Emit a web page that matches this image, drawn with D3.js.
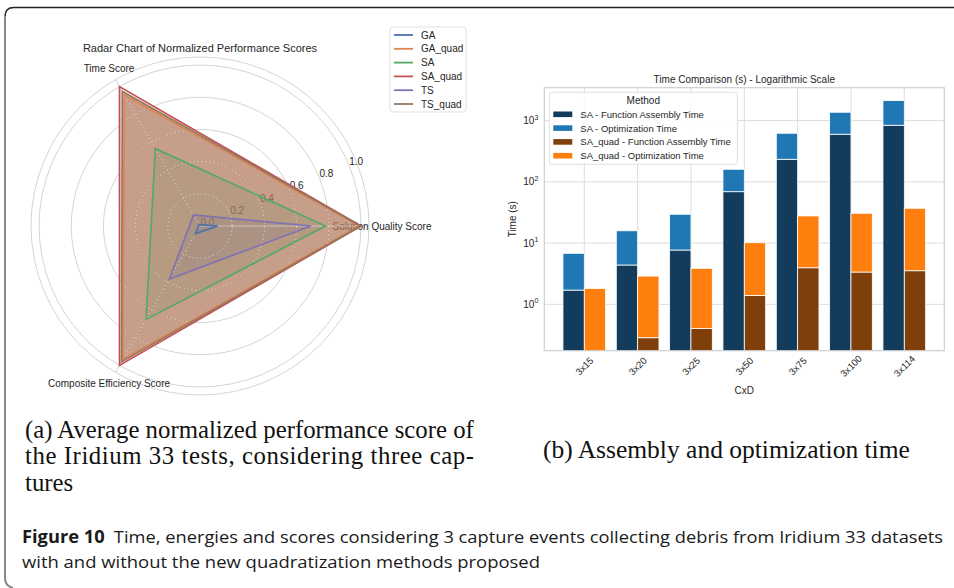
<!DOCTYPE html>
<html>
<head>
<meta charset="utf-8">
<script src="https://cdn.jsdelivr.net/npm/d3@7"></script>
<style>
  body { margin: 0; background: #fff; }
  svg { display: block; font-family: "Liberation Sans", Arial, sans-serif; }
</style>
</head>
<body>
<script>
// radar data
var radarAxes = ["Solution Quality Score", "Time Score", "Composite Efficiency Score"];
var radarMethods = ["GA", "GA_quad", "SA", "SA_quad", "TS", "TS_quad"];
var radarScores = [
  [0.11, 0.01, 0.055],
  [0.99, 0.94, 0.96],
  [0.78, 0.555, 0.67],
  [1.0, 1.0, 1.0],
  [0.69, 0.08, 0.38],
  [1.0, 0.965, 0.975]
];
var radarTicks = [0.0, 0.2, 0.4, 0.6, 0.8, 1.0];

// bar data
var cxd = ["3x15", "3x20", "3x25", "3x50", "3x75", "3x100", "3x114"];
var saAssembly = [1.71, 4.39, 7.71, 69.1, 234, 600, 841];
var saOptimization = [5.1, 11.5, 21.9, 91.6, 388, 771, 1281];
var quadAssembly = [0.12, 0.285, 0.405, 1.40, 3.96, 3.37, 3.54];
var quadOptimization = [1.7, 2.61, 3.47, 8.75, 23.8, 27.3, 33.5];
var yTicks = [1, 10, 100, 1000];
var barSeries = ["SA - Function Assembly Time", "SA - Optimization Time",
                 "SA_quad - Function Assembly Time", "SA_quad - Optimization Time"];

(function() {
  var width = 954, height = 588;
  var svg = d3.select("body").append("svg")
    .attr("width", width)
    .attr("height", height);

  svg.append("rect").attr("width", width).attr("height", height).attr("fill", "#fff");

  // frame
  svg.append("path")
    .attr("d", "M954,7.5 H14 Q5,7.5 5,16.5")
    .attr("fill", "none").attr("stroke", "#222").attr("stroke-width", 1.5);
  svg.append("path")
    .attr("d", "M5,16.5 V578 Q5,586 13,588")
    .attr("fill", "none").attr("stroke", "#888").attr("stroke-width", 2);

  // ---------- radar ----------
  var palette = ["#4c72b0", "#dd8452", "#55a868", "#c44e52", "#8172b3", "#937860"];
  var fillAlpha = [0.25, 0.45, 0.22, 0.12, 0.22, 0.4];
  var cx = 200, cy = 226;
  var r = d3.scaleLinear().domain([0, 1.05]).range([0, 169]);
  var theta = function(i) { return i * 2 * Math.PI / radarAxes.length; };

  var radar = svg.append("g").attr("transform", "translate(" + cx + "," + cy + ")");

  radar.selectAll("circle.grid")
    .data(radarTicks.slice(1).concat([1.05]))
    .enter().append("circle")
    .attr("class", "grid")
    .attr("r", function(d) { return r(d); })
    .attr("fill", "none")
    .attr("stroke", "#d4d4d4")
    .attr("stroke-width", 1);

  radar.selectAll("line.spoke")
    .data(radarAxes)
    .enter().append("line")
    .attr("class", "spoke")
    .attr("x2", function(d, i) { return r(1.05) * Math.cos(theta(i)); })
    .attr("y2", function(d, i) { return -r(1.05) * Math.sin(theta(i)); })
    .attr("stroke", "#d4d4d4");

  // radial tick labels (under the fills)
  var labAng = 22.5 * Math.PI / 180;
  radar.selectAll("text.rtick")
    .data(radarTicks)
    .enter().append("text")
    .attr("class", "rtick")
    .attr("x", function(d) { return (r(d) + 8) * Math.cos(labAng); })
    .attr("y", function(d) { return -(r(d) + 8) * Math.sin(labAng); })
    .attr("text-anchor", "middle")
    .attr("dominant-baseline", "central")
    .attr("font-size", 10)
    .attr("fill", "#262626")
    .text(function(d) { return d.toFixed(1); });

  radar.selectAll("text.theta")
    .data(radarAxes)
    .enter().append("text")
    .attr("class", "theta")
    .attr("x", function(d, i) { return 182 * Math.cos(theta(i)); })
    .attr("y", function(d, i) { return -182 * Math.sin(theta(i)); })
    .attr("text-anchor", "middle")
    .attr("dominant-baseline", "central")
    .attr("font-size", 10)
    .attr("fill", "#262626")
    .text(function(d) { return d; });

  var radial = d3.lineRadial()
    .angle(function(d, i) { return Math.PI / 2 - theta(i); })
    .radius(function(d) { return r(d); })
    .curve(d3.curveLinearClosed);

  radarScores.forEach(function(s, k) {
    radar.append("path")
      .attr("d", radial(s))
      .attr("fill", palette[k])
      .attr("fill-opacity", fillAlpha[k]);
  });

  // light dashed grid showing through the fill
  radar.append("clipPath").attr("id", "fillclip")
    .append("path").attr("d", radial(radarScores[3]));
  var over = radar.append("g").attr("clip-path", "url(#fillclip)");
  over.selectAll("circle")
    .data(radarTicks.slice(1))
    .enter().append("circle")
    .attr("r", function(d) { return r(d); })
    .attr("fill", "none")
    .attr("stroke", "rgba(235,235,235,0.6)")
    .attr("stroke-dasharray", "2,2");
  over.selectAll("line")
    .data(radarAxes)
    .enter().append("line")
    .attr("x2", function(d, i) { return r(1.05) * Math.cos(theta(i)); })
    .attr("y2", function(d, i) { return -r(1.05) * Math.sin(theta(i)); })
    .attr("stroke", "rgba(235,235,235,0.6)")
    .attr("stroke-dasharray", function(d, i) { return i === 0 ? null : "2,2"; });

  radarScores.forEach(function(s, k) {
    radar.append("path")
      .attr("d", radial(s))
      .attr("fill", "none")
      .attr("stroke", palette[k])
      .attr("stroke-width", 1.7);
  });

  svg.append("text")
    .attr("x", cx).attr("y", 52)
    .attr("text-anchor", "middle")
    .attr("font-size", 11)
    .attr("fill", "#262626")
    .text("Radar Chart of Normalized Performance Scores");

  var rleg = svg.append("g").attr("transform", "translate(390,27)");
  rleg.append("rect")
    .attr("width", 76).attr("height", 85).attr("rx", 3)
    .attr("fill", "#fff").attr("stroke", "#e0e0e0");
  radarMethods.forEach(function(m, i) {
    var yy = 8 + i * 13.8;
    rleg.append("line")
      .attr("x1", 4).attr("x2", 23).attr("y1", yy).attr("y2", yy)
      .attr("stroke", palette[i]).attr("stroke-width", 1.8);
    rleg.append("text")
      .attr("x", 31).attr("y", yy)
      .attr("dominant-baseline", "central")
      .attr("font-size", 10)
      .attr("fill", "#262626")
      .text(m);
  });

  // ---------- bars ----------
  var barColors = ["#123b5c", "#1f77b4", "#7f3f0a", "#ff7f0e"];
  var axL = 544.3, axR = 944.3, axT = 87.7, axB = 350.7;
  var x = d3.scaleLinear().domain([-0.75, cxd.length - 0.25]).range([axL, axR]);
  var y = d3.scaleLog().domain([0.175, 3450]).range([axB, axT]);
  var bw = x(0.4) - x(0);
  var floor = y.domain()[0] / 2;

  var bars = svg.append("g");
  bars.append("clipPath").attr("id", "axclip")
    .append("rect").attr("x", axL).attr("y", axT)
    .attr("width", axR - axL).attr("height", axB - axT);

  bars.selectAll("line.hgrid")
    .data(yTicks)
    .enter().append("line")
    .attr("class", "hgrid")
    .attr("x1", axL).attr("x2", axR)
    .attr("y1", function(d) { return y(d); })
    .attr("y2", function(d) { return y(d); })
    .attr("stroke", "#dcdcdc");
  bars.selectAll("line.vgrid")
    .data(cxd)
    .enter().append("line")
    .attr("class", "vgrid")
    .attr("x1", function(d, i) { return x(i); })
    .attr("x2", function(d, i) { return x(i); })
    .attr("y1", axT).attr("y2", axB)
    .attr("stroke", "#dcdcdc");

  var stacks = [
    { off: -0.2, lo: function(i) { return floor; }, hi: function(i) { return saAssembly[i]; } },
    { off: -0.2, lo: function(i) { return saAssembly[i]; }, hi: function(i) { return saAssembly[i] + saOptimization[i]; } },
    { off: 0.2, lo: function(i) { return floor; }, hi: function(i) { return quadAssembly[i]; } },
    { off: 0.2, lo: function(i) { return quadAssembly[i]; }, hi: function(i) { return quadAssembly[i] + quadOptimization[i]; } }
  ];
  var barG = bars.append("g").attr("clip-path", "url(#axclip)");
  stacks.forEach(function(s, k) {
    barG.selectAll(null)
      .data(cxd)
      .enter().append("rect")
      .attr("x", function(d, i) { return x(i + s.off) - bw / 2; })
      .attr("width", bw)
      .attr("y", function(d, i) { return y(s.hi(i)); })
      .attr("height", function(d, i) { return y(s.lo(i)) - y(s.hi(i)); })
      .attr("fill", barColors[k])
      .attr("stroke", "#fff")
      .attr("stroke-width", 0.8);
  });

  bars.append("rect")
    .attr("x", axL).attr("y", axT)
    .attr("width", axR - axL).attr("height", axB - axT)
    .attr("fill", "none").attr("stroke", "#cfcfcf").attr("stroke-width", 1.2);

  var yt = bars.selectAll("text.ytick")
    .data(yTicks)
    .enter().append("text")
    .attr("class", "ytick")
    .attr("x", axL - 6)
    .attr("y", function(d) { return y(d) + 3.5; })
    .attr("text-anchor", "end")
    .attr("font-size", 10)
    .attr("fill", "#262626");
  yt.append("tspan").text("10");
  yt.append("tspan")
    .attr("dy", -4.5)
    .attr("font-size", 7)
    .text(function(d) { return Math.round(Math.log10(d)); });

  bars.selectAll("text.xtick")
    .data(cxd)
    .enter().append("text")
    .attr("class", "xtick")
    .attr("transform", function(d, i) { return "translate(" + x(i) + ",366) rotate(-45)"; })
    .attr("text-anchor", "middle")
    .attr("dominant-baseline", "central")
    .attr("font-size", 9.5)
    .attr("fill", "#262626")
    .text(function(d) { return d; });

  bars.append("text")
    .attr("x", (axL + axR) / 2).attr("y", 393.5)
    .attr("text-anchor", "middle")
    .attr("font-size", 10).attr("fill", "#262626")
    .text("CxD");
  bars.append("text")
    .attr("transform", "translate(516," + (axT + axB) / 2 + ") rotate(-90)")
    .attr("text-anchor", "middle")
    .attr("font-size", 10).attr("fill", "#262626")
    .text("Time (s)");
  bars.append("text")
    .attr("x", (axL + axR) / 2).attr("y", 82.8)
    .attr("text-anchor", "middle")
    .attr("font-size", 10).attr("fill", "#262626")
    .text("Time Comparison (s) - Logarithmic Scale");

  var bleg = bars.append("g").attr("transform", "translate(549.3,92.3)");
  bleg.append("rect")
    .attr("width", 188).attr("height", 72).attr("rx", 3)
    .attr("fill", "#fff").attr("fill-opacity", 0.85).attr("stroke", "#e0e0e0");
  bleg.append("text")
    .attr("x", 94).attr("y", 8.2)
    .attr("text-anchor", "middle").attr("dominant-baseline", "central")
    .attr("font-size", 10).attr("fill", "#262626")
    .text("Method");
  barSeries.forEach(function(name, i) {
    var yy = 22 + i * 13.8;
    bleg.append("rect")
      .attr("x", 4).attr("y", yy - 2.8).attr("width", 19).attr("height", 5.6)
      .attr("fill", barColors[i]);
    bleg.append("text")
      .attr("x", 31).attr("y", yy)
      .attr("dominant-baseline", "central")
      .attr("font-size", 9.5).attr("fill", "#262626")
      .text(name);
  });

  // ---------- captions ----------
  function fit(sel, w) {
    var fs = parseFloat(sel.attr("font-size"));
    var len = sel.node().getComputedTextLength();
    sel.attr("font-size", fs * w / len);
    return fs * w / len;
  }

  var serif = "'Liberation Serif', 'DejaVu Serif', serif";
  var capA = ["(a) Average normalized performance score of",
              "the Iridium 33 tests, considering three cap-",
              "tures"];
  var a0 = svg.append("text").attr("x", 25).attr("y", 438)
    .attr("font-family", serif).attr("font-size", 21).attr("fill", "#111").text(capA[0]);
  var fsA = fit(a0, 449);
  svg.append("text").attr("x", 25).attr("y", 464)
    .attr("font-family", serif).attr("font-size", fsA).attr("fill", "#111")
    .attr("textLength", 449).attr("lengthAdjust", "spacing").text(capA[1]);
  svg.append("text").attr("x", 25).attr("y", 491)
    .attr("font-family", serif).attr("font-size", fsA).attr("fill", "#111").text(capA[2]);
  var b0 = svg.append("text").attr("x", 543).attr("y", 458)
    .attr("font-family", serif).attr("font-size", fsA).attr("fill", "#111")
    .text("(b) Assembly and optimization time");
  fit(b0, 367);

  var sans = "'Open Sans', 'Noto Sans', sans-serif";
  var f1 = svg.append("text").attr("x", 22).attr("y", 543)
    .attr("font-family", sans).attr("font-size", 17).attr("fill", "#1a1a1a")
    .attr("textLength", 921).attr("lengthAdjust", "spacingAndGlyphs");
  f1.append("tspan").attr("font-weight", "bold").text("Figure 10");
  f1.append("tspan").text("\u2002Time, energies and scores considering 3 capture events collecting debris from Iridium 33 datasets");
  svg.append("text").attr("x", 22).attr("y", 568)
    .attr("font-family", sans).attr("font-size", 17).attr("fill", "#1a1a1a")
    .attr("textLength", 518).attr("lengthAdjust", "spacingAndGlyphs")
    .text("with and without the new quadratization methods proposed");
})();
</script>
</body>
</html>
